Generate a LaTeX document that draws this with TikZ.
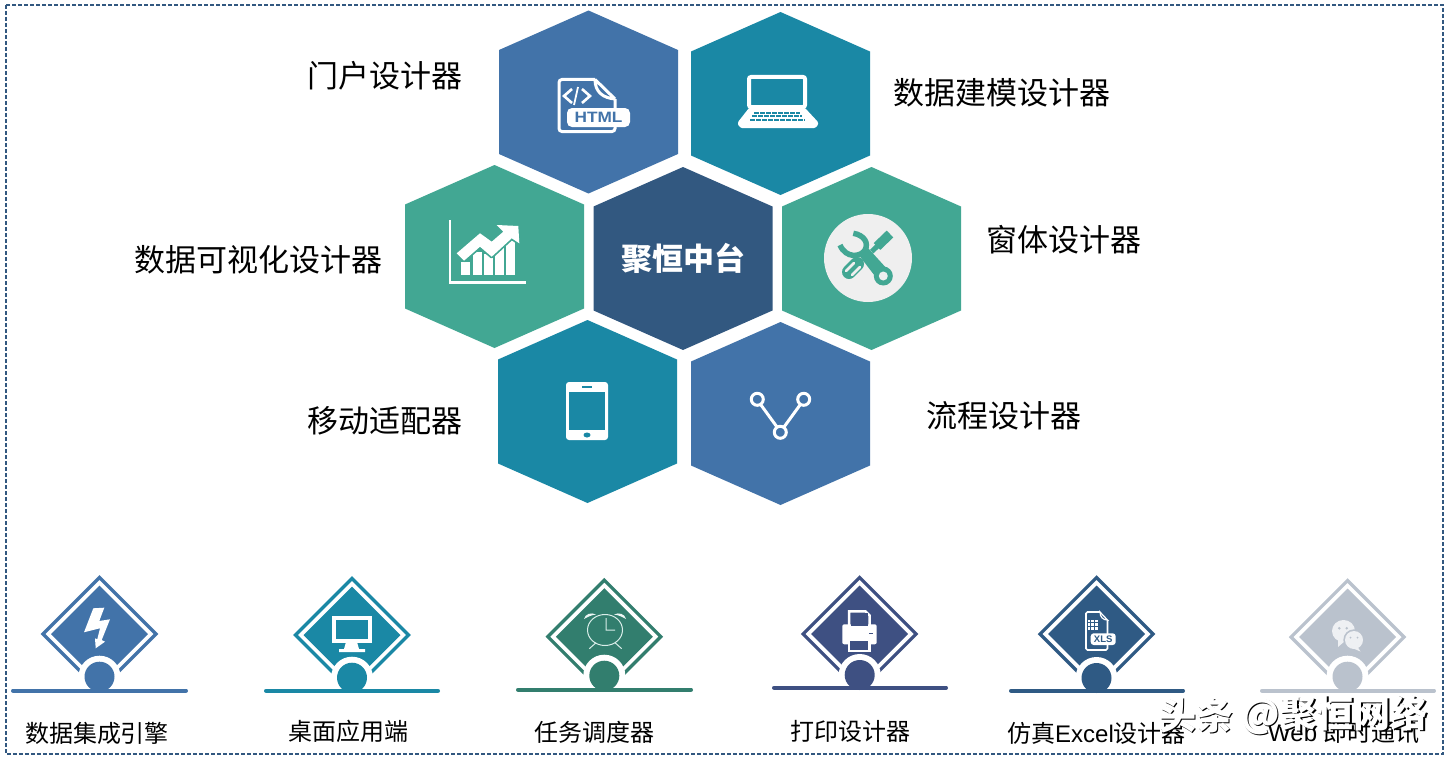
\documentclass[tikz,border=0pt]{standalone}
\usepackage{fontspec}
\setmainfont{Liberation Sans}
\newfontfamily\cjk{Noto Sans CJK SC}
\usetikzlibrary{calc}

\definecolor{hexblue}{HTML}{4273A9}
\definecolor{hexteal}{HTML}{1A88A5}
\definecolor{hexgreen}{HTML}{42A793}
\definecolor{hexnavy}{HTML}{325880}
\definecolor{clockgreen}{HTML}{327E6E}
\definecolor{printblue}{HTML}{3E5082}
\definecolor{xlsblue}{HTML}{2F5A84}
\definecolor{chatgrey}{HTML}{BAC2CD}
\definecolor{chatwhite}{HTML}{EEF0F3}
\definecolor{toolgrey}{HTML}{EFEFEF}

\tikzset{
  hexlabel/.style={font=\fontsize{31}{31}\selectfont\cjk,text=black,inner sep=0pt},
  itemlabel/.style={font=\fontsize{24}{24}\selectfont,text=black,inner sep=0pt},
  marklabel/.style={font=\fontsize{37}{37}\selectfont\cjk\bfseries,inner sep=0pt},
  icon/.style={white,line width=3pt},
}

\begin{document}
\begin{tikzpicture}[x=1pt,y=-1pt]

\useasboundingbox (0,0) rectangle (1449,760);
\draw[hexnavy,line width=1.5pt,dash pattern=on 4pt off 2pt] (6,5) rectangle (1443,754);

% hexagons
\foreach \name/\hx/\hy/\hc in {htmlcell/588.5/102/hexblue,laptopcell/780.5/103.5/hexteal,
  chartcell/494.5/256.5/hexgreen,centercell/683/258.5/hexnavy,toolcell/871.5/258.5/hexgreen,
  phonecell/587.5/411.5/hexteal,flowcell/780.5/413.5/hexblue}
{
  \coordinate (\name) at (\hx,\hy);
  \fill[\hc,shift={(\name)}] (0,-91.5)--(89.5,-52)--(89.5,52)--(0,91.5)--(-89.5,52)--(-89.5,-52)--cycle;
}

\node (centertext) at (centercell) [text=white,inner sep=0pt,font=\fontsize{31}{31}\selectfont\cjk\bfseries] {聚恒中台};

\node (htmllabel) at (385,76) [hexlabel] {门户设计器};
\node (laptoplabel) at (1001.5,93) [hexlabel] {数据建模设计器};
\node (chartlabel) at (258,260) [hexlabel] {数据可视化设计器};
\node (toollabel) at (1064,240) [hexlabel] {窗体设计器};
\node (phonelabel) at (385,421) [hexlabel] {移动适配器};
\node (flowlabel) at (1003.5,416) [hexlabel] {流程设计器};

% html icon
\draw[icon,rounded corners=3pt] (595,79.5)--(559,79.5)--(559,131.5)--(615,131.5)--(615,99);
\draw[icon,line join=round] (595,79.5)--(615,99) (595,79.5)..controls (595,92) and (603,98)..(615,99);
\fill[white,rounded corners=5pt] (567,108) rectangle (630,127);
\node (htmltext) at (598.5,117.5) [text=hexblue,inner sep=0pt,xscale=1.15,font=\fontsize{15}{15}\selectfont\bfseries] {HTML};
\draw[icon,line width=2.6pt] (572,89)--(564,96)--(572,103) (582,89)--(590,96)--(582,103);
\draw[icon,line width=1.8pt] (578,87)--(574,105);

% laptop icon
\draw[icon,line width=4pt,rounded corners=2pt] (749,77)rectangle(805,107);
\fill[white,rounded corners=1pt] (749,108)--(805,108)--(818,122)--(818,125)--(815,128)--(741,128)--(738,125)--(738,122)--cycle;
\draw[hexteal,line width=2pt,dash pattern=on 5pt off 1pt] (754,113)--(800,113);
\draw[hexteal,line width=2pt,dash pattern=on 5pt off 1pt] (752,116.3)--(802,116.3);
\draw[hexteal,line width=2pt,dash pattern=on 5pt off 1pt] (750,119.6)--(805,119.6);

% chart icon
\draw[icon,line width=2.6pt] (450,220)--(450,282.5)--(526,282.5);
\foreach \bx/\btop in {461/262,472.5/252,484/254,495/248,506/240}
  \fill[white] (\bx,\btop) rectangle (\bx+9,275);
\draw[hexgreen,line width=3.5pt,line join=round] (456.7,253.3)--(480,233.3)--(491.7,241.7)--(503.3,231.7)--(496.7,225)--(518.3,226)--(519.3,243.3)--(511.7,238.3)--(491.7,256.7)--(480,246.7)--(464,260.7)--cycle;
\fill[white] (456.7,253.3)--(480,233.3)--(491.7,241.7)--(503.3,231.7)--(496.7,225)--(518.3,226)--(519.3,243.3)--(511.7,238.3)--(491.7,256.7)--(480,246.7)--(464,260.7)--cycle;

% tool icon
\fill[toolgrey] (868,258) circle [radius=44];
\draw[hexgreen,line width=5.5pt] (853.3,233.3)..controls (864,235) and (869,243)..(865,250)..controls (861,257) and (846,259)..(840,245);
\fill[hexgreen] (858,254)--(868,248)--(888,270)--(878,280)--cycle;
\fill[hexgreen] (883.3,276) circle [radius=9.5];
\fill[toolgrey] (883.3,276) circle [radius=4.5];
\draw[hexgreen,line width=14pt,line cap=round] (849,272)--(857,264);
\draw[toolgrey,line width=2.5pt,line cap=round] (846,271)--(854,263) (852,275)--(860,267);
\draw[hexgreen,line width=5pt] (871.7,251.7)--(878,245.5);
\draw[hexgreen,line width=9.5pt] (877,246.5)--(890,234);

% phone icon
\fill[white,rounded corners=3pt] (566,382) rectangle (608,440);
\fill[hexteal] (568.7,391.7) rectangle (605.3,430);
\fill[hexteal] (587,435) ellipse [x radius=3.5,y radius=2.5];
\fill[hexteal] (582,386) rectangle (592,387.5);

% flow icon
\draw[icon] (761,405)--(777,427) (800,405)--(784,427);
\draw[icon] (757.3,399.3) circle [radius=6];
\draw[icon] (803.7,399.3) circle [radius=6];
\draw[icon] (780.3,432.3) circle [radius=6];

% bottom row
\foreach \name/\ix/\iy/\cy/\ly/\lx/\rx/\ic in {engine/99.5/634/676.7/690.5/11/188/hexblue,
  desktop/352/635/677.7/690.7/264/440/hexteal,
  sched/604.3/636.7/675.7/689.7/516/693/clockgreen,
  printer/859.7/634/675/687.7/772/948/printblue,
  excel/1096.5/634/678/690.7/1009/1185/xlsblue,
  chat/1347.5/637/676.7/690.7/1260/1436/chatgrey}
{
  \coordinate (\name) at (\ix,\iy);
  \draw[\ic,line width=3.2pt,shift={(\name)}] (0,-56.5)--(56.5,0)--(0,56.5)--(-56.5,0)--cycle;
  \fill[\ic,shift={(\name)}] (0,-48.5)--(48.5,0)--(0,48.5)--(-48.5,0)--cycle;
  \fill[white] (\ix,\cy) circle [radius=21];
  \fill[\ic] (\ix,\cy) circle [radius=15];
  \draw[\ic,line width=4pt,line cap=round] (\lx+2,\ly)--(\rx-2,\ly);
}

% bolt
\fill[white] (93.3,608.3)--(104.3,607.7)--(99.3,621)--(110,619.3)--(101.7,640)--(105,641.7)--(95.7,648.3)--(95,638.3)--(97.3,639.3)--(100,628.3)--(84,632.3)--cycle;

% monitor
\draw[icon,line width=4pt] (334,617.5) rectangle (370,640.5);
\fill[white] (346,642)--(357,642)--(359,649)--(365,649)--(365,652)--(339,652)--(339,649)--(344,649)--cycle;

% clock
\draw[white!80!hexgreen,line width=1pt] (605,630) ellipse [x radius=17.5,y radius=15.5];
\draw[white!80!hexgreen,line width=1pt] (606,618)--(606,630)--(615,630) (596,642.7)--(589.3,648.7) (615,642.7)--(621.7,648.7);
\fill[white!90!hexgreen] (584,619)..controls (585,614) and (591,612)..(596,614.5)..controls (591,615) and (588,617)..cycle;
\fill[white!90!hexgreen] (626,619)..controls (625,614) and (619,612)..(614,614.5)..controls (619,615) and (622,617)..cycle;

% printer
\fill[white,rounded corners=2pt] (842.3,624.3) rectangle (876.7,644.3);
\draw[icon,line width=2.5pt] (849,638)--(849,611.3)--(865.5,611.3)--(869.5,615.5)--(869.5,638);
\draw[white,line width=2.5pt,fill=printblue] (849,640)--(869.5,640)--(869.5,651)--(849,651)--cycle;
\fill[printblue] (851,612.5) rectangle (868,626);
\fill[printblue] (869.3,633) rectangle (872.7,634);

% xls file
\draw[white,line width=1.6pt,rounded corners=1.5pt] (1100,612)--(1086,612)--(1086,650)--(1107.5,650)--(1107.5,620);
\draw[white,line width=1.2pt] (1100,612)..controls (1100,617) and (1103,620)..(1107.5,620)--cycle;
\fill[white] (1087.5,619.5) rectangle (1097.5,629.5);
\foreach \gx in {1090.5,1094}
  \draw[xlsblue,line width=.6pt] (\gx,619.5)--(\gx,629.5);
\foreach \gy in {622.5,626}
  \draw[xlsblue,line width=.6pt] (1087.5,\gy)--(1097.5,\gy);
\fill[white,rounded corners=3pt] (1090.7,633.3) rectangle (1115.7,645);
\node (xlstext) at (1103.2,639.2) [text=xlsblue,inner sep=0pt,font=\fontsize{9.5}{10}\selectfont\bfseries] {XLS};

% chat bubbles
\fill[chatwhite] (1343.5,631) ellipse [x radius=11.5,y radius=11];
\fill[chatwhite] (1338,639)--(1338,647)--(1345,641)--cycle;
\fill[chatgrey] (1354,640) circle [radius=10.7];
\fill[chatwhite] (1354,640) circle [radius=9];
\fill[chatwhite] (1357,646)--(1360.5,651.5)--(1352,648)--cycle;
\foreach \ex/\ey/\er in {1339.3/628.3/1.4,1346.7/628.3/1.4,1350.5/637.7/1,1357.5/637.7/1}
  \fill[chatgrey] (\ex,\ey) circle [radius=\er];

% item labels
\node (enginelabel) at (97,733) [itemlabel] {\cjk 数据集成引擎};
\node (desktoplabel) at (348,731) [itemlabel] {\cjk 桌面应用端};
\node (schedlabel) at (594.5,732) [itemlabel] {\cjk 任务调度器};
\node (printerlabel) at (850,731) [itemlabel] {\cjk 打印设计器};
\node (excellabel) at (1096.5,733) [itemlabel] {{\cjk 仿真}Excel{\cjk 设计器}};
\node (chatlabel) at (1344,733) [itemlabel] {Web {\cjk 即时通讯}};

% overprinted mark
\node (markshadowa) at (1197.5,716) [marklabel,text=black] {头条};
\node (markshadowb) at (1336,716) [marklabel,text=black] {@聚恒网络};
\node (marka) at (1196,715) [marklabel,text=white] {头条};
\node (markb) at (1334.5,715) [marklabel,text=white] {@聚恒网络};

\end{tikzpicture}
\end{document}
